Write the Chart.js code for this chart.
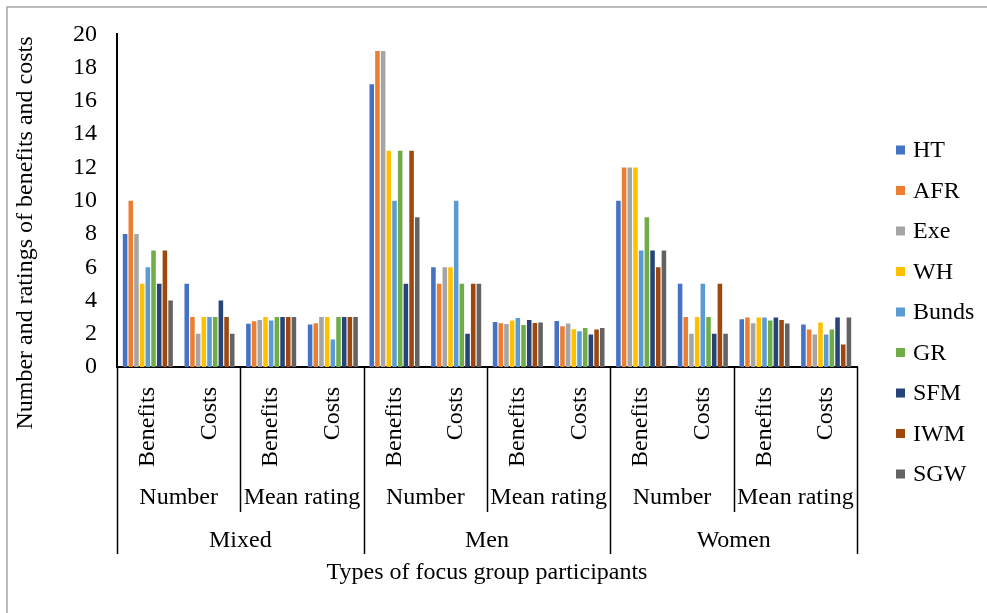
<!DOCTYPE html>
<html>
<head>
<meta charset="utf-8">
<script src="https://cdn.jsdelivr.net/npm/chart.js@4"></script>
<style>
  html, body { margin: 0; padding: 0; background: #fff; }
  #wrap { width: 987px; height: 613px; }
</style>
</head>
<body>
<div id="wrap"><canvas id="chart" width="987" height="613"></canvas></div>
<script>
// axis categories (three levels)
const participants = ['Mixed', 'Men', 'Women']
const measures = ['Number', 'Mean rating']
const kinds = ['Benefits', 'Costs']

// series, one value per category in order:
// Mixed Number B/C, Mixed Mean B/C, Men Number B/C, Men Mean B/C, Women Number B/C, Women Mean B/C
const practices = ['HT', 'AFR', 'Exe', 'WH', 'Bunds', 'GR', 'SFM', 'IWM', 'SGW']
const HT    = [8, 5, 2.6, 2.55, 17, 6, 2.7, 2.77, 10, 5, 2.87, 2.55]
const AFR   = [10, 3, 2.75, 2.63, 19, 5, 2.63, 2.45, 12, 3, 2.97, 2.25]
const Exe   = [8, 2, 2.83, 3, 19, 6, 2.59, 2.61, 12, 2, 2.63, 1.95]
const WH    = [5, 3, 3, 3, 13, 6, 2.79, 2.27, 12, 3, 2.97, 2.67]
const Bunds = [6, 3, 2.8, 1.65, 10, 10, 2.95, 2.15, 7, 5, 2.97, 1.95]
const GR    = [7, 3, 3, 3, 13, 5, 2.53, 2.35, 9, 3, 2.79, 2.25]
const SFM   = [5, 4, 3, 3, 5, 2, 2.83, 1.95, 7, 2, 2.97, 2.97]
const IWM   = [7, 3, 3, 3, 13, 5, 2.65, 2.25, 6, 5, 2.83, 1.35]
const SGW   = [4, 2, 3, 3, 9, 5, 2.67, 2.35, 7, 2, 2.61, 2.97]
const seriesValues = [HT, AFR, Exe, WH, Bunds, GR, SFM, IWM, SGW]
const colors = ['#4472C4', '#ED7D31', '#A5A5A5', '#FFC000', '#5B9BD5', '#70AD47', '#264478', '#9E480E', '#636363']

const yMin = 0
const yMax = 20
const yStep = 2

const yTitle = 'Number and ratings of benefits and costs'
const xTitle = 'Types of focus group participants'

const FONT = '"Liberation Serif", "Times New Roman", serif'
const FONT_SIZE = 24
const INK = '#000'

// flatten the three levels into the 12 bottom-level labels
const labels = []
participants.forEach(() => measures.forEach(() => kinds.forEach(k => labels.push(k))))

// draws the outer levels of the category axis, the y title, the legend and the frame
const decorations = {
  id: 'decorations',
  beforeDraw(chart) {
    const ctx = chart.ctx
    ctx.save()
    ctx.strokeStyle = '#a6a6a6'
    ctx.lineWidth = 1.5
    ctx.beginPath()
    ctx.moveTo(7, 613)
    ctx.lineTo(7, 7)
    ctx.lineTo(987, 7)
    ctx.stroke()
    ctx.restore()
  },
  afterDraw(chart) {
    const ctx = chart.ctx
    const xs = chart.scales.x
    const area = chart.chartArea
    const n = labels.length
    const step = (area.right - area.left) / n
    const edge = i => area.left + i * step

    ctx.save()
    ctx.fillStyle = INK
    ctx.strokeStyle = INK
    ctx.font = FONT_SIZE + 'px ' + FONT
    ctx.textAlign = 'center'
    ctx.textBaseline = 'middle'

    // separators: between participant groups all the way down, between measures two levels down
    ctx.lineWidth = 1.5
    for (let i = 0; i <= n; i += kinds.length) {
      const full = i % (kinds.length * measures.length) === 0
      const x = Math.round(edge(i)) + 0.5
      ctx.beginPath()
      ctx.moveTo(x, area.bottom)
      ctx.lineTo(x, full ? 554 : 512)
      ctx.stroke()
    }

    // second level: measures
    let idx = 0
    participants.forEach(() => {
      measures.forEach(m => {
        const cx = (xs.getPixelForValue(idx) + xs.getPixelForValue(idx + kinds.length - 1)) / 2
        ctx.fillText(m, cx, 498)
        idx += kinds.length
      })
    })

    // third level: participants
    const per = kinds.length * measures.length
    participants.forEach((p, j) => {
      const cx = (xs.getPixelForValue(j * per) + xs.getPixelForValue(j * per + per - 1)) / 2
      ctx.fillText(p, cx, 541)
    })

    // y axis title
    ctx.save()
    ctx.translate(26, 233)
    ctx.rotate(-Math.PI / 2)
    ctx.fillText(yTitle, 0, 0)
    ctx.restore()

    // legend
    ctx.textAlign = 'left'
    chart.data.datasets.forEach((ds, i) => {
      const cy = 150 + i * 40.5
      ctx.fillStyle = ds.backgroundColor
      ctx.fillRect(896, cy - 4.5, 9, 9)
      ctx.fillStyle = INK
      ctx.fillText(ds.label, 913, cy + 1)
    })
    ctx.restore()
  }
}

const ctx = document.getElementById('chart').getContext('2d')
new Chart(ctx, {
  type: 'bar',
  data: {
    labels: labels,
    datasets: practices.map((name, i) => ({
      label: name,
      data: seriesValues[i],
      backgroundColor: colors[i],
      borderWidth: 0,
      barPercentage: 0.8,
      categoryPercentage: 0.83,
    }))
  },
  options: {
    responsive: false,
    animation: false,
    layout: {
      padding: { left: 0, top: 33, right: 130, bottom: 0 }
    },
    scales: {
      x: {
        grid: { display: false, drawTicks: false },
        border: { color: INK, width: 2 },
        ticks: {
          autoSkip: false,
          minRotation: 90,
          maxRotation: 90,
          padding: 20,
          color: INK,
          font: { family: FONT, size: FONT_SIZE },
        },
        title: {
          display: true,
          text: xTitle,
          color: INK,
          font: { family: FONT, size: FONT_SIZE },
          padding: { top: 0, bottom: 26 },
        },
        afterFit(scale) { scale.height = 246 },
      },
      y: {
        min: yMin,
        max: yMax,
        grid: { display: false, drawTicks: false },
        border: { color: INK, width: 2 },
        ticks: {
          stepSize: yStep,
          padding: 20,
          color: INK,
          font: { family: FONT, size: FONT_SIZE },
        },
        afterFit(scale) { scale.width = 117 },
      }
    },
    plugins: {
      legend: { display: false },
      tooltip: { enabled: false },
    }
  },
  plugins: [decorations]
})
</script>
</body>
</html>
